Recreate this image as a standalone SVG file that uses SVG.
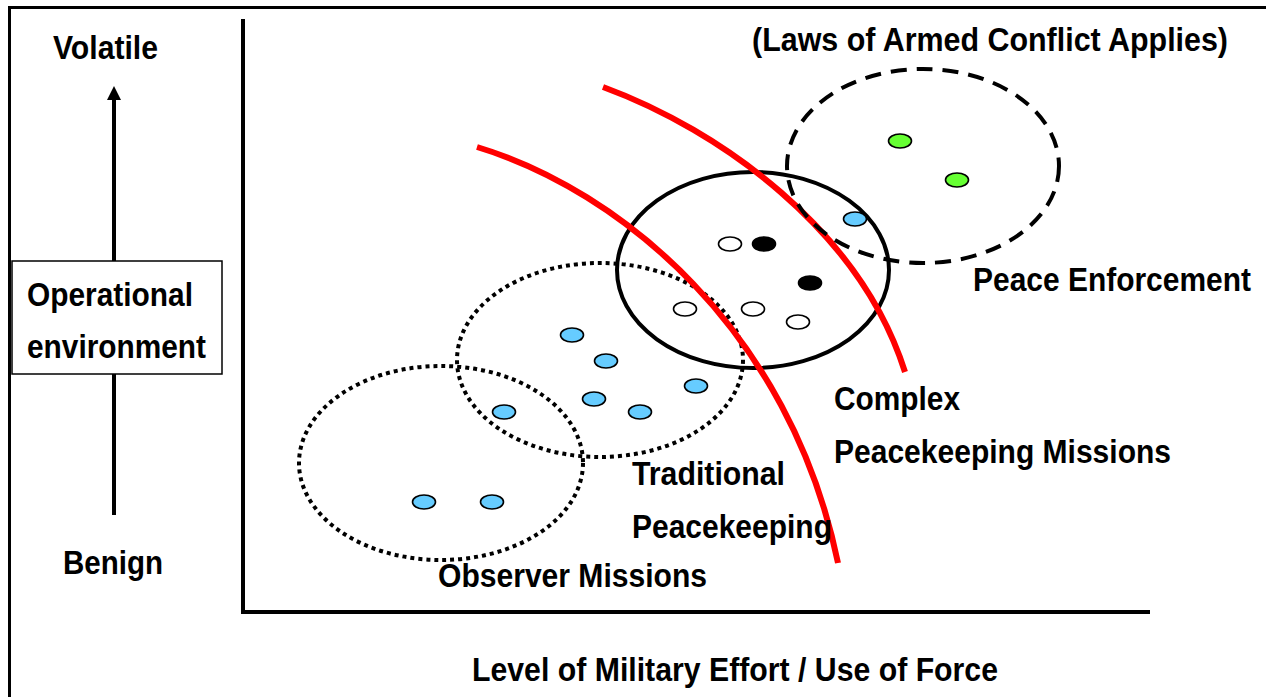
<svg xmlns="http://www.w3.org/2000/svg" width="1266" height="697" viewBox="0 0 1266 697">
<style>
.t{font-family:"Liberation Sans",Arial,sans-serif;font-weight:bold;font-size:33px;fill:#000}
.dot{stroke:#000;stroke-width:1.6}
.blue{fill:#66ccff}.green{fill:#66ff33}.white{fill:#fff}.black{fill:#000}
.dotted{fill:none;stroke:#000;stroke-width:4;stroke-dasharray:4 4}
.dashed{fill:none;stroke:#000;stroke-width:4;stroke-dasharray:16 10}
.solid{fill:none;stroke:#000;stroke-width:4}
.red{fill:none;stroke:#ff0000;stroke-width:6}
</style>
<defs>
<marker id="ah" viewBox="0 0 12 12" refX="6" refY="1" markerWidth="12" markerHeight="12" markerUnits="userSpaceOnUse" orient="auto-start-reverse">
<path d="M0,12 L6,0 L12,12 Z" fill="#000"/>
</marker>
</defs>
<rect width="1266" height="697" fill="#fff"/>
<g id="frame">
<path d="M9.5,697 V7.5 H1266" fill="none" stroke="#000" stroke-width="3"/>
</g>
<g id="axes">
<path d="M243,19 V612 H1150" fill="none" stroke="#000" stroke-width="4"/>
</g>
<g id="connectors">
<line x1="114" y1="515" x2="114" y2="99" stroke="#000" stroke-width="4"/>
<path d="M107,100 L114,86 L121,100 Z" fill="#000"/>
</g>
<g id="env-box">
<rect x="12" y="261" width="210" height="113" fill="#fff" stroke="#000" stroke-width="1.5"/>
<text class="t" x="27" y="306" textLength="166" lengthAdjust="spacingAndGlyphs">Operational</text>
<text class="t" x="27" y="358" textLength="179" lengthAdjust="spacingAndGlyphs">environment</text>
</g>
<g id="axis-labels">
<text class="t" x="53" y="59" textLength="105" lengthAdjust="spacingAndGlyphs">Volatile</text>
<text class="t" x="63" y="574" textLength="100" lengthAdjust="spacingAndGlyphs">Benign</text>
<text class="t" x="472" y="681" textLength="526" lengthAdjust="spacingAndGlyphs">Level of Military Effort / Use of Force</text>
</g>
<g id="observer">
<ellipse class="dotted" cx="441" cy="463" rx="142" ry="97"/>
</g>
<g id="traditional">
<ellipse class="dotted" cx="600" cy="360" rx="143" ry="97"/>
</g>
<g id="complex">
<ellipse class="solid" cx="753" cy="270" rx="136" ry="98"/>
</g>
<g id="red-lines">
<path class="red" d="M477,147 C620,190 790,330 838,563"/>
<path class="red" d="M603,87 C720,130 860,230 905,372"/>
</g>
<g id="enforcement">
<ellipse class="dashed" cx="923" cy="166" rx="136" ry="97"/>
</g>
<g id="dots">
<ellipse class="dot blue" cx="424" cy="502" rx="11.5" ry="7"/>
<ellipse class="dot blue" cx="492" cy="502" rx="11.5" ry="7"/>
<ellipse class="dot blue" cx="504" cy="412" rx="11.5" ry="7"/>
<ellipse class="dot blue" cx="572" cy="335" rx="11.5" ry="7"/>
<ellipse class="dot blue" cx="606" cy="361" rx="11.5" ry="7"/>
<ellipse class="dot blue" cx="594" cy="399" rx="11.5" ry="7"/>
<ellipse class="dot blue" cx="640" cy="412" rx="11.5" ry="7"/>
<ellipse class="dot blue" cx="696" cy="386" rx="11.5" ry="7"/>
<ellipse class="dot blue" cx="855" cy="219" rx="11.5" ry="7"/>
<ellipse class="dot green" cx="900" cy="141" rx="11.5" ry="7"/>
<ellipse class="dot green" cx="957" cy="180" rx="11.5" ry="7"/>
<ellipse class="dot white" cx="730" cy="244" rx="11.5" ry="7"/>
<ellipse class="dot white" cx="685" cy="309" rx="11.5" ry="7"/>
<ellipse class="dot white" cx="753" cy="309" rx="11.5" ry="7"/>
<ellipse class="dot white" cx="798" cy="322" rx="11.5" ry="7"/>
<ellipse class="dot black" cx="764" cy="244" rx="11.5" ry="7"/>
<ellipse class="dot black" cx="810" cy="283" rx="11.5" ry="7"/>
</g>
<g id="labels">
<text class="t" x="752" y="51" textLength="476" lengthAdjust="spacingAndGlyphs">(Laws of Armed Conflict Applies)</text>
<text class="t" x="973" y="291" textLength="278" lengthAdjust="spacingAndGlyphs">Peace Enforcement</text>
<text class="t" x="834" y="410" textLength="126" lengthAdjust="spacingAndGlyphs">Complex</text>
<text class="t" x="834" y="463" textLength="337" lengthAdjust="spacingAndGlyphs">Peacekeeping Missions</text>
<text class="t" x="632" y="485" textLength="153" lengthAdjust="spacingAndGlyphs">Traditional</text>
<text class="t" x="632" y="538" textLength="200" lengthAdjust="spacingAndGlyphs">Peacekeeping</text>
<text class="t" x="438" y="587" textLength="269" lengthAdjust="spacingAndGlyphs">Observer Missions</text>
</g>
</svg>
